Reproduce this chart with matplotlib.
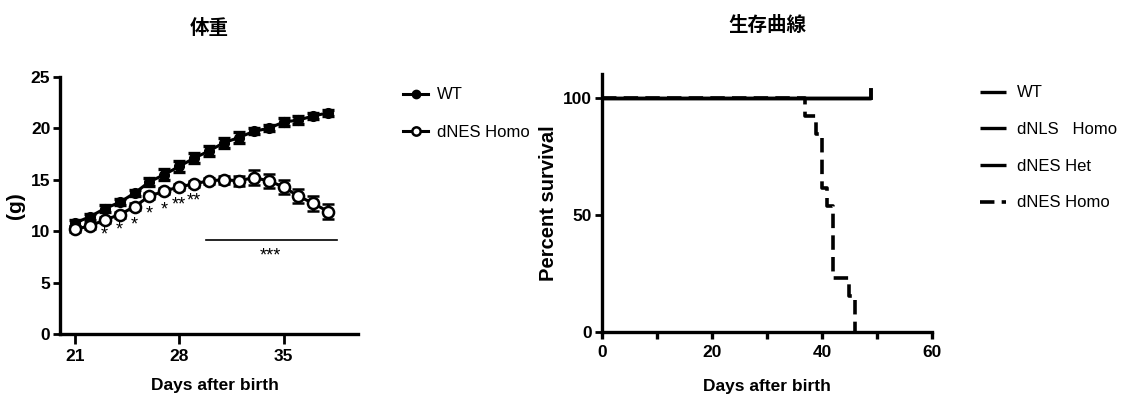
import matplotlib
matplotlib.use("Agg")
import matplotlib.pyplot as plt
from matplotlib.lines import Line2D

# --- data ---------------------------------------------------------------
days = list(range(21, 39))
wt_mean = [10.8, 11.4, 12.2, 12.8, 13.7, 14.8, 15.5, 16.3, 17.1, 17.8,
           18.6, 19.1, 19.7, 20.0, 20.6, 20.8, 21.2, 21.5]
wt_err = [0.3, 0.3, 0.3, 0.3, 0.3, 0.4, 0.5, 0.5, 0.5, 0.5,
          0.5, 0.5, 0.3, 0.3, 0.4, 0.4, 0.3, 0.3]
homo_mean = [10.2, 10.5, 11.1, 11.6, 12.4, 13.4, 13.9, 14.3, 14.6, 14.9,
             15.0, 14.9, 15.2, 14.9, 14.3, 13.4, 12.7, 11.9]
homo_err = [0.3, 0.3, 0.3, 0.3, 0.3, 0.3, 0.3, 0.3, 0.3, 0.3,
            0.4, 0.5, 0.7, 0.7, 0.7, 0.7, 0.7, 0.7]

star_days = [23, 24, 25, 26, 27, 28, 29]
star_labels = ["*", "*", "*", "*", "*", "**", "**"]
star_y = [9.6, 10.1, 10.6, 11.7, 12.1, 12.5, 12.9]
bar_days = [29.8, 38.6]
bar_y = 9.1
bar_label_y = 7.6

surv_groups = ["WT", "dNLS   Homo", "dNES Het"]
surv_end_day = 49
homo_times = [0, 37, 39, 40, 41, 42, 45, 46]
homo_surv = [100, 92.3, 84.6, 61.5, 53.8, 23.1, 15.4, 0]

cjk = ["Noto Sans CJK JP", "DejaVu Sans"]
plt.rcParams["font.family"] = ["Liberation Sans", "DejaVu Sans"]

fig = plt.figure(figsize=(11.26, 3.94), dpi=100)

lw = 2.2
tick_kw = dict(width=2, length=5, direction="out", labelsize=12.5, pad=2)

# --- left: body weight ----------------------------------------------------
ax1 = fig.add_axes([0.0533, 0.152, 0.2647, 0.653])
ax1.errorbar(days, wt_mean, yerr=wt_err, color="black", lw=lw, marker="o",
             ms=7, mfc="black", mec="black", capsize=4, capthick=2.4,
             elinewidth=2.4, zorder=3)
ax1.errorbar(days, homo_mean, yerr=homo_err, color="black", lw=lw, marker="o",
             ms=8, mfc="white", mec="black", mew=1.8, capsize=4, capthick=2.4,
             elinewidth=2.4, zorder=4)
for d, s, y in zip(star_days, star_labels, star_y):
    ax1.text(d, y, s, ha="center", va="center", fontsize=13)
ax1.plot(bar_days, [bar_y, bar_y], color="black", lw=1.2)
ax1.text(sum(bar_days) / 2 - 0.1, bar_label_y, "***", ha="center", va="center",
         fontsize=13)

ax1.set_xlim(20, 40)
ax1.set_ylim(0, 25)
ax1.set_xticks([21, 28, 35])
ax1.set_yticks([0, 5, 10, 15, 20, 25])
ax1.set_ylabel("(g)", fontsize=15, fontweight="bold", labelpad=4)
ax1.set_xlabel("Days after birth", fontsize=12.5, fontweight="bold", labelpad=9)
ax1.xaxis.set_label_coords(0.52, -0.17)
ax1.set_title("体重", family=cjk, fontsize=14, fontweight="bold", pad=31)
for s in ["top", "right"]:
    ax1.spines[s].set_visible(False)
for s in ["left", "bottom"]:
    ax1.spines[s].set_linewidth(2.4)
ax1.tick_params(**tick_kw)
ax1.tick_params(axis="x", length=7, pad=4)
for lab in ax1.get_xticklabels() + ax1.get_yticklabels():
    lab.set_fontweight("bold")

h_wt = Line2D([], [], color="black", lw=lw, marker="o", ms=6, mfc="black")
h_homo = Line2D([], [], color="black", lw=lw, marker="o", ms=6, mfc="white",
                mew=1.8)
ax1.legend([h_wt, h_homo], ["WT", "dNES Homo"], loc="upper left",
           bbox_to_anchor=(0.352, 0.795), bbox_transform=fig.transFigure,
           frameon=False, fontsize=12, handlelength=1.5, handletextpad=0.55,
           labelspacing=1.35, borderaxespad=0)

# --- right: survival ------------------------------------------------------
ax2 = fig.add_axes([0.5346, 0.157, 0.293, 0.655])
handles = []
for g in surv_groups:
    ln, = ax2.plot([0, surv_end_day], [100, 100], color="black", lw=2.4,
                   solid_capstyle="butt", zorder=3)
    handles.append(ln)
ax2.plot([surv_end_day, surv_end_day], [100, 103], color="black", lw=2.8,
         zorder=3)
dash, = ax2.step(homo_times, homo_surv, where="post", color="black", lw=2.6,
                 dashes=(4, 2), zorder=2)
handles.append(dash)

ax2.set_xlim(0, 60)
ax2.set_ylim(0, 110)
ax2.set_xticks([0, 20, 40, 60])
ax2.set_xticks([10, 30, 50], minor=True)
ax2.set_yticks([0, 50, 100])
ax2.set_ylabel("Percent survival", fontsize=14.5, fontweight="bold", labelpad=4)
ax2.set_xlabel("Days after birth", fontsize=12.5, fontweight="bold", labelpad=14)
ax2.set_title("生存曲線", family=cjk, fontsize=14, fontweight="bold", pad=31)
for s in ["top", "right"]:
    ax2.spines[s].set_visible(False)
for s in ["left", "bottom"]:
    ax2.spines[s].set_linewidth(2.4)
ax2.tick_params(**tick_kw)
ax2.tick_params(axis="x", which="both", width=2.4, length=5, pad=4)
for lab in ax2.get_xticklabels() + ax2.get_yticklabels():
    lab.set_fontweight("bold")
ax2.legend(handles, surv_groups + ["dNES Homo"], loc="upper left",
           bbox_to_anchor=(0.864, 0.80), bbox_transform=fig.transFigure,
           frameon=False, fontsize=12, handlelength=1.6, handletextpad=0.65,
           labelspacing=1.3, borderaxespad=0)

fig.savefig("out.png", dpi=100)
